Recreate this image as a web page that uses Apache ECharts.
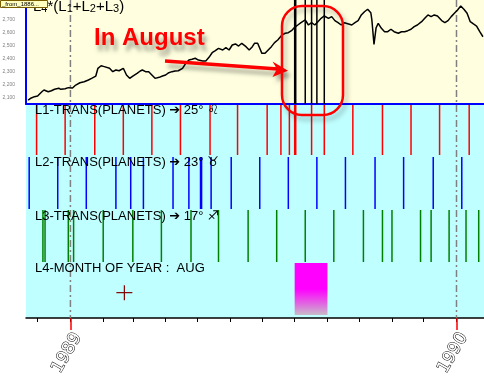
<!DOCTYPE html>
<html><head><meta charset="utf-8">
<script src="https://cdn.jsdelivr.net/npm/echarts@6/dist/echarts.min.js"></script>
<style>html,body{margin:0;padding:0;background:#fff}#c{width:484px;height:379px}</style>
</head><body><div id="c"></div>
<script>
// ---------------- data ----------------
const axisStart = '1988-11-20';
const axisEnd = '1990-01-27';

const priceDates = [
 '1988-11-22','1988-11-25','1988-11-28','1988-12-01','1988-12-05','1988-12-07','1988-12-11','1988-12-14','1988-12-17','1988-12-21',
 '1988-12-23','1988-12-27','1988-12-30','1989-01-03','1989-01-06','1989-01-10','1989-01-14','1989-01-18','1989-01-21','1989-01-25',
 '1989-01-27','1989-01-30','1989-02-02','1989-02-07','1989-02-10','1989-02-13','1989-02-16','1989-02-20','1989-02-23','1989-02-26',
 '1989-03-01','1989-03-05','1989-03-08','1989-03-10','1989-03-13','1989-03-16','1989-03-19','1989-03-22','1989-03-26','1989-03-29',
 '1989-04-01','1989-04-04','1989-04-07','1989-04-10','1989-04-13','1989-04-17','1989-04-20','1989-04-23','1989-04-26','1989-04-29',
 '1989-05-02','1989-05-06','1989-05-09','1989-05-12','1989-05-15','1989-05-18','1989-05-21','1989-05-25','1989-05-28','1989-05-31',
 '1989-06-03','1989-06-06','1989-06-09','1989-06-12','1989-06-16','1989-06-19','1989-06-22','1989-06-24','1989-06-27','1989-06-29',
 '1989-07-01','1989-07-04','1989-07-07','1989-07-10','1989-07-13','1989-07-16','1989-07-20','1989-07-23','1989-07-26','1989-07-29',
 '1989-08-01','1989-08-04','1989-08-07','1989-08-11','1989-08-14','1989-08-17','1989-08-20','1989-08-23','1989-08-26','1989-08-29',
 '1989-09-02','1989-09-05','1989-09-08','1989-09-11','1989-09-14','1989-09-17','1989-09-21','1989-09-24','1989-09-27','1989-09-30',
 '1989-10-03','1989-10-06','1989-10-09','1989-10-12','1989-10-13','1989-10-15','1989-10-17','1989-10-19','1989-10-22','1989-10-25',
 '1989-10-28','1989-10-31','1989-11-03','1989-11-07','1989-11-10','1989-11-13','1989-11-16','1989-11-19','1989-11-22','1989-11-25',
 '1989-11-29','1989-12-02','1989-12-05','1989-12-08','1989-12-11','1989-12-14','1989-12-18','1989-12-21','1989-12-24','1989-12-27',
 '1989-12-30','1990-01-02','1990-01-05','1990-01-08','1990-01-11','1990-01-14','1990-01-17','1990-01-20','1990-01-23','1990-01-26'
];
const priceValues = [
 2078,2095,2105,2110,2143,2157,2143,2151,2162,2170,
 2162,2167,2175,2172,2195,2213,2221,2234,2247,2265,
 2325,2345,2338,2325,2299,2312,2306,2325,2273,2247,
 2265,2286,2304,2312,2299,2299,2273,2247,2255,2265,
 2273,2291,2299,2304,2306,2325,2364,2389,2395,2403,
 2389,2382,2382,2410,2446,2462,2480,2467,2485,2467,
 2506,2514,2498,2519,2493,2467,2493,2519,2519,2480,
 2441,2441,2467,2493,2524,2545,2583,2597,2601,2617,
 2643,2661,2679,2700,2661,2679,2661,2687,2713,2731,
 2713,2726,2695,2679,2661,2679,2669,2661,2679,2695,
 2739,2764,2783,2756,2700,2510,2640,2674,2635,2609,
 2609,2628,2609,2597,2609,2609,2617,2628,2648,2661,
 2687,2713,2739,2726,2739,2731,2695,2679,2695,2726,
 2752,2777,2808,2783,2752,2687,2669,2653,2609,2570
];
const priceTickLabels = [2100, 2200, 2300, 2400, 2500, 2600, 2700, 2800];

const l1Dates = ['1988-11-30','1988-12-27','1989-01-24','1989-02-20','1989-03-19','1989-04-15','1989-05-13','1989-06-08',
 '1989-07-06','1989-07-19','1989-07-27','1989-08-01','1989-08-02','1989-08-17','1989-08-29','1989-09-25','1989-10-23',
 '1989-11-19','1989-12-16','1990-01-13'];
const l2Dates = ['1988-11-23','1988-12-20','1989-01-16','1989-02-13','1989-02-27','1989-03-11','1989-04-08','1989-04-23',
 '1989-05-04','1989-05-05','1989-05-14','1989-06-02','1989-06-29','1989-07-26','1989-08-22','1989-09-18','1989-10-16',
 '1989-11-12','1989-12-10','1990-01-06'];
const l3Dates = ['1988-12-06','1988-12-08','1988-12-30','1989-01-04','1989-02-01','1989-03-01','1989-03-28','1989-04-25',
 '1989-05-21','1989-06-18','1989-07-15','1989-08-11','1989-09-07','1989-10-05','1989-10-23','1989-11-01','1989-11-28',
 '1989-12-08','1989-12-25','1990-01-10','1990-01-22'];
const l4MonthNumber = '08';
const l4MonthName = 'AUG';
const l4Ranges = [['1989-08-01', '1989-09-01']];
const cursorPoint = ['1989-02-21', 0.43];

const monthTicks = ['1988-12-01','1989-01-01','1989-02-01','1989-03-01','1989-04-01','1989-05-01','1989-06-01',
 '1989-07-01','1989-08-01','1989-09-01','1989-10-01','1989-11-01','1989-12-01','1990-01-01'];
const yearTicks = ['1989-01-01', '1990-01-01'];

const titleText = 'L{s|4}*(L{s|1}+L{s|2}+L{s|3})';
const panelLabels = [
 'L1-TRANS(PLANETS) \u2794 25\u00b0 \u264c',
 'L2-TRANS(PLANETS) \u2794 23\u00b0 \u2649',
 'L3-TRANS(PLANETS) \u2794 17\u00b0 \u2650',
 'L4-MONTH OF YEAR :  ' + l4MonthName
];
const annotationText = 'In August';
const badgeText = '_from_1886...';

// ---------------- helpers ----------------
function ts(s) { const p = s.split('-').map(Number); return new Date(p[0], p[1] - 1, p[2]).getTime(); }
const combinedSignals = [...l1Dates, ...l2Dates, ...l3Dates].filter(d => d.slice(5, 7) === l4MonthNumber);

function vline(color, width, dash) {
  return function (params, api) {
    const cs = params.coordSys;
    const x = api.coord([api.value(0), api.value(1)])[0];
    return { type: 'line', silent: true,
      shape: { x1: x, y1: cs.y, x2: x, y2: cs.y + cs.height },
      style: { stroke: color, lineWidth: width, lineDash: dash || null } };
  };
}
function monthRect(params, api) {
  const cs = params.coordSys;
  const x0 = api.coord([api.value(0), 0.5])[0];
  const x1 = api.coord([api.value(1), 0.5])[0];
  return { type: 'rect', shape: { x: x0, y: cs.y, width: x1 - x0, height: cs.height },
    style: { fill: new echarts.graphic.LinearGradient(0, 0, 0, 1, [
      { offset: 0, color: '#ff00ff' }, { offset: 0.5, color: '#ff00ff' },
      { offset: 0.75, color: '#e45ae4' }, { offset: 1, color: '#c8bcc8' }]) } };
}
function crossMark(params, api) {
  const p = api.coord([api.value(0), api.value(1)]);
  return { type: 'group', children: [
    { type: 'line', shape: { x1: p[0] - 8, y1: p[1], x2: p[0] + 8, y2: p[1] }, style: { stroke: '#800000', lineWidth: 1.2 } },
    { type: 'line', shape: { x1: p[0], y1: p[1] - 7.5, x2: p[0], y2: p[1] + 7.5 }, style: { stroke: '#800000', lineWidth: 1.2 } }
  ] };
}

const LEFT = 26, WIDTH = 458;
const mkGrid = (top, height, bg) => ({ left: LEFT, top, width: WIDTH, height, outerBoundsMode: 'none',
  show: !!bg, backgroundColor: bg || 'transparent', borderWidth: 0 });
const X = (gridIndex, extra) => Object.assign({ gridIndex, type: 'value', min: ts(axisStart), max: ts(axisEnd), show: false,
  splitLine: { show: false } }, extra || {});
const Y01 = gridIndex => ({ gridIndex, type: 'value', min: 0, max: 1, show: false, splitLine: { show: false } });
const onePoint = arr => arr.map(d => [ts(d), 0.5]);

const chart = echarts.init(document.getElementById('c'), null, { renderer: 'canvas' });
chart.setOption({
  animation: false,
  backgroundColor: '#ffffff',
  grid: [
    mkGrid(0, 104, '#ffffe0'),   // 0 top price panel
    mkGrid(105, 213, '#c0ffff'), // 1 lower background
    mkGrid(105, 50),             // 2 L1
    mkGrid(157, 52),             // 3 L2
    mkGrid(210, 52),             // 4 L3
    mkGrid(263, 52),             // 5 L4
    mkGrid(0, 318)               // 6 overlay / bottom axis
  ],
  xAxis: [
    X(0, { show: true, axisLine: { show: true, lineStyle: { color: '#0000ff', width: 2 } }, axisTick: { show: false }, axisLabel: { show: false } }),
    X(2), X(3), X(4), X(5),
    X(6, { show: true, position: 'bottom', axisLine: { show: true, lineStyle: { color: '#000', width: 1.5 } },
      axisTick: { show: true, customValues: monthTicks.map(ts), length: 4, lineStyle: { color: '#000', width: 1 } },
      axisLabel: { show: false } }),
    X(6, { show: true, position: 'bottom', axisLine: { show: false },
      axisTick: { show: true, customValues: yearTicks.map(ts), length: 12, lineStyle: { color: '#ff0000', width: 1.5 } },
      axisLabel: { show: true, customValues: yearTicks.map(ts), formatter: v => String(new Date(v).getFullYear()),
        rotate: 60, margin: 12, verticalAlign: 'top', fontSize: 17, fontFamily: 'DejaVu Sans', color: '#ffffff',
        textBorderColor: '#000000', textBorderWidth: 1 } }),
    X(1)
  ],
  yAxis: [
    { gridIndex: 0, type: 'value', min: 2048, max: 2855, position: 'left',
      axisLine: { show: true, lineStyle: { color: '#0000ff', width: 2 } }, axisTick: { show: false }, splitLine: { show: false },
      axisLabel: { customValues: priceTickLabels, fontSize: 5, color: '#808080', margin: 11, fontFamily: 'Liberation Sans' } },
    Y01(0), Y01(2), Y01(3), Y01(4), Y01(5), Y01(6), Y01(1)
  ],
  series: [
    { type: 'custom', xAxisIndex: 5, yAxisIndex: 6, data: onePoint(yearTicks), renderItem: vline('#808080', 1.5, [7, 3, 2, 3]), silent: true },
    { type: 'line', xAxisIndex: 0, yAxisIndex: 0, data: priceDates.map((d, i) => [ts(d), priceValues[i]]),
      showSymbol: false, lineStyle: { color: '#000000', width: 1.5 }, silent: true },
    { type: 'custom', xAxisIndex: 0, yAxisIndex: 1, data: onePoint(combinedSignals), renderItem: vline('#000000', 1.5), silent: true },
    { type: 'custom', xAxisIndex: 1, yAxisIndex: 2, data: onePoint(l1Dates), renderItem: vline('#ff0000', 1.5), silent: true },
    { type: 'custom', xAxisIndex: 2, yAxisIndex: 3, data: onePoint(l2Dates), renderItem: vline('#0000ff', 1.5), silent: true },
    { type: 'custom', xAxisIndex: 3, yAxisIndex: 4, data: onePoint(l3Dates), renderItem: vline('#008000', 1.5), silent: true },
    { type: 'custom', xAxisIndex: 4, yAxisIndex: 5, data: l4Ranges.map(r => [ts(r[0]), ts(r[1]), 0.5]),
      encode: { x: [0, 1], y: 2 }, renderItem: monthRect, silent: true },
    { type: 'custom', xAxisIndex: 4, yAxisIndex: 5, data: [[ts(cursorPoint[0]), cursorPoint[1]]], renderItem: crossMark, silent: true }
  ],
  graphic: [
    { type: 'text', z: 100, x: 33, y: -1, style: { text: titleText, fontSize: 15, fontFamily: 'Liberation Sans', fill: '#000',
      verticalAlign: 'top', rich: { s: { fontSize: 11, fontFamily: 'Liberation Sans', fill: '#000', verticalAlign: 'bottom' } } } },
    { type: 'rect', z: 101, shape: { x: 0.5, y: 0.5, width: 47, height: 7 }, style: { fill: '#ffffc0', stroke: '#7a5c00', lineWidth: 1 } },
    { type: 'text', z: 102, x: 2, y: 1, style: { text: badgeText, fontSize: 6, fontFamily: 'Liberation Sans', fill: '#000', verticalAlign: 'top' } },
    ...panelLabels.map((t, i) => ({ type: 'text', z: 100, x: 35, y: [104, 155.7, 209.7, 262.3][i],
      style: { text: t, fontSize: 13, fontFamily: 'Liberation Sans, DejaVu Sans', fill: '#000', verticalAlign: 'top' } })),
    { type: 'text', z: 110, x: 94, y: 26.5, style: { text: annotationText, fontSize: 24, fontWeight: 'bold',
      fontFamily: 'Liberation Sans', fill: '#ff0000', verticalAlign: 'top',
      textShadowColor: 'rgba(0,0,0,0.35)', textShadowBlur: 4, textShadowOffsetX: 3, textShadowOffsetY: 6 } },
    { type: 'line', z: 110, shape: { x1: 165, y1: 61, x2: 278, y2: 69 },
      style: { stroke: '#ff0000', lineWidth: 3.5, shadowColor: 'rgba(0,0,0,0.35)', shadowBlur: 4, shadowOffsetX: 3, shadowOffsetY: 5 } },
    { type: 'polygon', z: 110, shape: { points: [[288, 70.7], [272.5, 61.5], [277, 69], [272.5, 77]] },
      style: { fill: '#ff0000', shadowColor: 'rgba(0,0,0,0.35)', shadowBlur: 4, shadowOffsetX: 3, shadowOffsetY: 5 } },
    { type: 'rect', z: 110, shape: { x: 282, y: 6, width: 61, height: 109, r: 20 },
      style: { fill: null, stroke: '#ff0000', lineWidth: 2.5, shadowColor: 'rgba(0,0,0,0.3)', shadowBlur: 5, shadowOffsetX: 3, shadowOffsetY: 4 } }
  ]
});
</script></body></html>
